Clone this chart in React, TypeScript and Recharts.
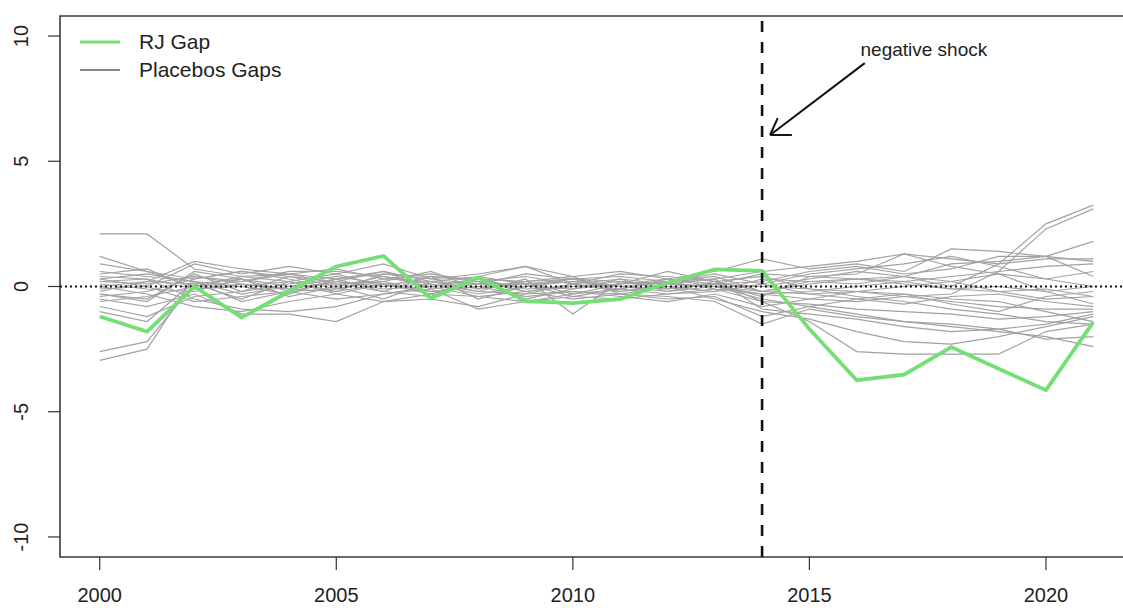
import React from 'react';
import { LineChart, Line, XAxis, YAxis, ReferenceLine, ReferenceArea, ReferenceDot } from 'recharts';

const years = [2000, 2001, 2002, 2003, 2004, 2005, 2006, 2007, 2008, 2009, 2010, 2011, 2012, 2013, 2014, 2015, 2016, 2017, 2018, 2019, 2020, 2021];

const rjGap = [-1.2, -1.8, 0.0, -1.24, -0.2, 0.8, 1.22, -0.48, 0.36, -0.58, -0.66, -0.5, 0.15, 0.68, 0.62, -1.7, -3.74, -3.52, -2.42, -3.28, -4.14, -1.42];

const placebos: number[][] = [
  [2.1, 2.1, 0.7, 0.4, 0.5, 0.3, 0.6, 0.2, 0.4, 0.1, 0.3, 0.4, 0.2, 0.3, 0.6, 0.8, 1.0, 1.3, 1.1, 0.9, 1.1, 1.1],
  [-2.6, -2.2, 0.1, 0.3, -0.2, -0.1, 0.3, 0.2, -0.1, 0.2, -0.3, 0.1, 0.3, 0.0, -0.5, -0.8, -1.1, -1.4, -1.6, -1.8, -2.0, -2.4],
  [-2.95, -2.5, 0.4, 0.2, 0.5, 0.1, -0.2, 0.4, 0.2, -0.2, 0.1, -0.1, 0.2, 0.4, -0.2, 0.1, 0.3, 0.4, 0.0, 0.9, 2.5, 3.25],
  [1.2, 0.6, 0.3, 0.6, 0.4, 0.2, 0.6, -0.1, 0.1, 0.5, 0.3, 0.0, 0.2, 0.5, 0.1, -0.3, -0.2, -0.4, -0.3, 0.6, 2.3, 3.1],
  [0.4, 0.3, -0.5, -0.9, -1.0, -0.8, -0.3, 0.0, -0.4, -0.6, -0.4, -0.5, -0.3, -0.1, -0.6, -1.4, -2.6, -2.7, -2.7, -2.7, -1.8, -1.5],
  [-0.5, -0.8, -0.3, -1.1, -1.1, -1.4, -0.6, -0.5, -0.8, -0.3, -0.2, -0.3, -0.4, -0.6, -1.5, -0.9, -1.2, -1.4, -1.5, -1.7, -2.1, -2.0],
  [0.3, 0.0, 0.9, 0.5, 0.8, 0.5, 0.9, 0.3, 0.5, 0.8, 0.4, 0.6, 0.3, 0.6, 1.1, 0.7, 0.9, 0.6, 1.5, 1.4, 1.2, 0.4],
  [-0.3, -0.5, 0.5, -0.2, 0.1, 0.4, 0.1, -0.3, 0.3, -0.1, 0.0, 0.2, -0.1, 0.1, -0.4, 0.4, 0.5, 1.3, 0.8, 0.5, -0.2, -0.7],
  [0.1, -0.1, -0.2, 0.3, -0.4, 0.0, 0.4, 0.1, -0.2, 0.3, -1.1, 0.2, 0.0, -0.2, 0.3, 0.2, 0.1, 0.4, 0.9, 1.0, 1.2, 1.8],
  [-1.0, -1.4, 0.2, -0.6, -0.2, 0.2, 0.0, 0.4, -0.5, 0.0, 0.3, -0.2, 0.1, 0.3, -0.9, -1.1, -1.3, -1.6, -1.8, -1.7, -1.5, -1.1],
  [0.5, 0.7, -0.1, 0.0, -0.3, 0.3, -0.2, -0.4, 0.4, 0.8, 0.1, 0.3, -0.2, 0.0, 0.0, 0.3, 0.6, 0.4, 0.2, -0.2, -0.5, -0.4],
  [-0.2, 0.2, 1.0, 0.7, 0.5, 0.7, 0.3, 0.5, 0.2, 0.4, 0.1, 0.5, 0.4, 0.2, 0.4, -0.1, -0.4, -0.6, -0.9, -1.1, -1.4, -1.5],
  [0.0, -0.3, -0.8, -1.0, -0.6, -0.3, 0.1, -0.2, 0.0, -0.4, -0.2, -0.4, -0.6, -0.3, -0.8, -0.5, -0.2, 0.0, 0.2, 0.5, 0.3, 0.0],
  [0.6, 0.4, 0.2, 0.0, 0.2, -0.2, 0.5, 0.3, 0.1, 0.0, -0.1, 0.1, 0.6, 0.2, -0.2, -0.3, -0.5, -0.7, -0.4, -0.3, -0.6, -0.8],
  [-0.8, -1.2, -0.4, -0.2, 0.4, 0.0, -0.5, 0.2, 0.1, 0.1, 0.2, 0.0, -0.1, 0.1, 0.2, 0.6, 0.8, 0.5, 0.7, 1.2, 1.2, 1.0],
  [0.2, 0.1, 0.4, 0.1, -0.1, 0.2, -0.1, 0.0, 0.3, -0.2, 0.0, 0.1, 0.2, -0.1, -0.3, -0.2, 0.0, 0.2, -0.1, 0.0, -0.2, 0.0],
  [-0.4, -0.2, 0.3, 0.6, 0.3, -0.1, 0.2, 0.6, -0.1, 0.2, 0.4, -0.3, 0.0, -0.5, -1.0, -1.3, -1.8, -2.2, -2.3, -2.0, -1.6, -1.2],
  [0.9, 0.6, 0.0, 0.2, 0.6, 0.6, 0.4, 0.0, 0.2, -0.5, -0.1, 0.3, 0.1, 0.0, -0.3, -0.5, -0.6, -0.4, -0.6, -0.8, -0.9, -0.9],
  [-0.1, 0.0, -0.6, -0.4, -0.2, -0.5, -0.3, -0.1, -0.9, -0.6, -0.3, -0.1, 0.3, 0.1, 0.5, 0.4, 0.3, 0.1, -0.1, -0.2, -0.1, -0.4],
  [0.3, 0.5, 0.2, -0.3, 0.0, 0.1, 0.2, -0.2, 0.0, 0.1, -0.4, -0.1, -0.3, -0.2, 0.1, 0.5, 0.7, 0.9, 1.2, 0.8, 0.3, 0.6],
  [-0.6, -0.4, 0.0, 0.4, 0.2, 0.5, 0.0, 0.1, -0.3, 0.0, 0.2, 0.0, -0.2, 0.2, -0.6, -0.7, -0.9, -1.0, -1.1, -1.3, -1.2, -1.0],
  [0.2, 0.3, -0.1, 0.1, -0.1, -0.2, 0.1, 0.2, -0.2, -0.3, 0.1, -0.2, 0.0, 0.1, 0.0, -0.1, -0.2, -0.3, -0.5, -0.6, -1.0, -1.4],
  [-0.3, -0.6, 0.6, 0.3, 0.0, 0.3, 0.5, 0.4, 0.3, 0.2, 0.3, 0.2, 0.1, 0.0, -0.2, 0.2, 0.3, 0.2, 0.4, 0.6, 0.8, 0.9],
  [0.0, 0.2, 0.1, -0.5, 0.2, -0.3, -0.6, -0.3, -0.4, -0.2, -0.5, -0.3, -0.5, -0.4, -1.2, -0.8, -0.5, -0.3, -0.7, -1.0, -0.4, -0.2],
];

const xTicks = [2000, 2005, 2010, 2015, 2020];
const yTicks = [-10, -5, 0, 5, 10];
const xDomain: [number, number] = [1999.16, 2021.84];
const yDomain: [number, number] = [-10.8, 10.8];
const treatmentYear = 2014;
const shockLabel = 'negative shock';
const legendLabels = ['RJ Gap', 'Placebos Gaps'];
const arrowStart = { x: 2016.17, y: 8.92 };
const arrowTip = { x: 2014.17, y: 6.05 };
const arrowArmUp = { x: 2014.33, y: 6.72 };
const arrowArmRight = { x: 2014.63, y: 6.05 };
const labelPos = { x: 2017.42, y: 9.47 };

const GREEN = '#74df74';
const GRAY = '#a2a2a2';
const FONT = '"Liberation Sans", Arial, sans-serif';
const TEXT = '#222';

const data = years.map((year, i) => {
  const row: Record<string, number> = { year, rj: rjGap[i] };
  placebos.forEach((s, j) => {
    row['p' + j] = s[i];
  });
  return row;
});

const YTick = (props: any) => {
  const { x, y, payload } = props;
  const bx = x - 18;
  return (
    <text
      x={bx}
      y={y}
      transform={`rotate(-90 ${bx} ${y})`}
      textAnchor="middle"
      fontSize={20}
      fontFamily={FONT}
      fill={TEXT}
    >
      {payload.value}
    </text>
  );
};

const XTick = (props: any) => {
  const { x, y, payload } = props;
  return (
    <text x={x} y={y + 13} textAnchor="middle" fontSize={20} fontFamily={FONT} fill={TEXT}>
      {payload.value}
    </text>
  );
};

export default function App() {
  return (
    <div
      style={{
        position: 'fixed',
        left: 0,
        top: 0,
        width: 1123,
        height: 608,
        overflow: 'hidden',
        background: '#fff',
      }}
    >
      <LineChart width={1140} height={608} data={data} margin={{ top: 16, right: 7, bottom: 0, left: 0 }}>
        <XAxis
          dataKey="year"
          type="number"
          domain={xDomain}
          ticks={xTicks}
          allowDataOverflow
          interval={0}
          height={51}
          tickSize={13}
          tickMargin={19}
          axisLine={false}
          tickLine={{ stroke: '#333', strokeWidth: 1.2 }}
          tick={<XTick />}
        />
        <YAxis
          type="number"
          domain={yDomain}
          ticks={yTicks}
          allowDataOverflow
          interval={0}
          width={60}
          tickSize={12}
          tickMargin={2}
          axisLine={false}
          tickLine={{ stroke: '#333', strokeWidth: 1.2 }}
          tick={<YTick />}
        />
        <ReferenceArea
          x1={xDomain[0]}
          x2={xDomain[1]}
          y1={yDomain[0]}
          y2={yDomain[1]}
          fill="none"
          fillOpacity={0}
          stroke="#3a3a3a"
          strokeWidth={1.6}
          ifOverflow="visible"
        />
        {placebos.map((_, j) => (
          <Line
            key={j}
            dataKey={'p' + j}
            stroke={GRAY}
            strokeWidth={1.2}
            dot={false}
            activeDot={false}
            isAnimationActive={false}
            type="linear"
          />
        ))}
        <ReferenceLine y={0} stroke="#111" strokeWidth={2} strokeDasharray="2 3" ifOverflow="visible" />
        <Line
          dataKey="rj"
          stroke={GREEN}
          strokeWidth={3.8}
          dot={false}
          activeDot={false}
          isAnimationActive={false}
          type="linear"
        />
        <ReferenceLine x={treatmentYear} stroke="#111" strokeWidth={2.6} strokeDasharray="11 10" />
        <ReferenceLine segment={[arrowStart, arrowTip]} stroke="#111" strokeWidth={2} ifOverflow="visible" />
        <ReferenceLine segment={[arrowTip, arrowArmUp]} stroke="#111" strokeWidth={2} ifOverflow="visible" />
        <ReferenceLine segment={[arrowTip, arrowArmRight]} stroke="#111" strokeWidth={2} ifOverflow="visible" />
        <ReferenceDot
          x={labelPos.x}
          y={labelPos.y}
          r={0}
          fill="none"
          stroke="none"
          ifOverflow="visible"
          label={{ value: shockLabel, position: 'center', fontSize: 19, fontFamily: FONT, fill: TEXT }}
        />
      </LineChart>
      <div
        style={{
          position: 'absolute',
          left: 80,
          top: 28,
          fontFamily: FONT,
          fontSize: 21,
          color: TEXT,
        }}
      >
        {legendLabels.map((label, i) => (
          <div key={label} style={{ display: 'flex', alignItems: 'center', height: 28 }}>
            <svg width={40} height={6} style={{ display: 'block' }}>
              <line x1={0} y1={3} x2={40} y2={3} stroke={i === 0 ? GREEN : '#888'} strokeWidth={i === 0 ? 3 : 2} />
            </svg>
            <span style={{ marginLeft: 19, lineHeight: '28px' }}>{label}</span>
          </div>
        ))}
      </div>
    </div>
  );
}
